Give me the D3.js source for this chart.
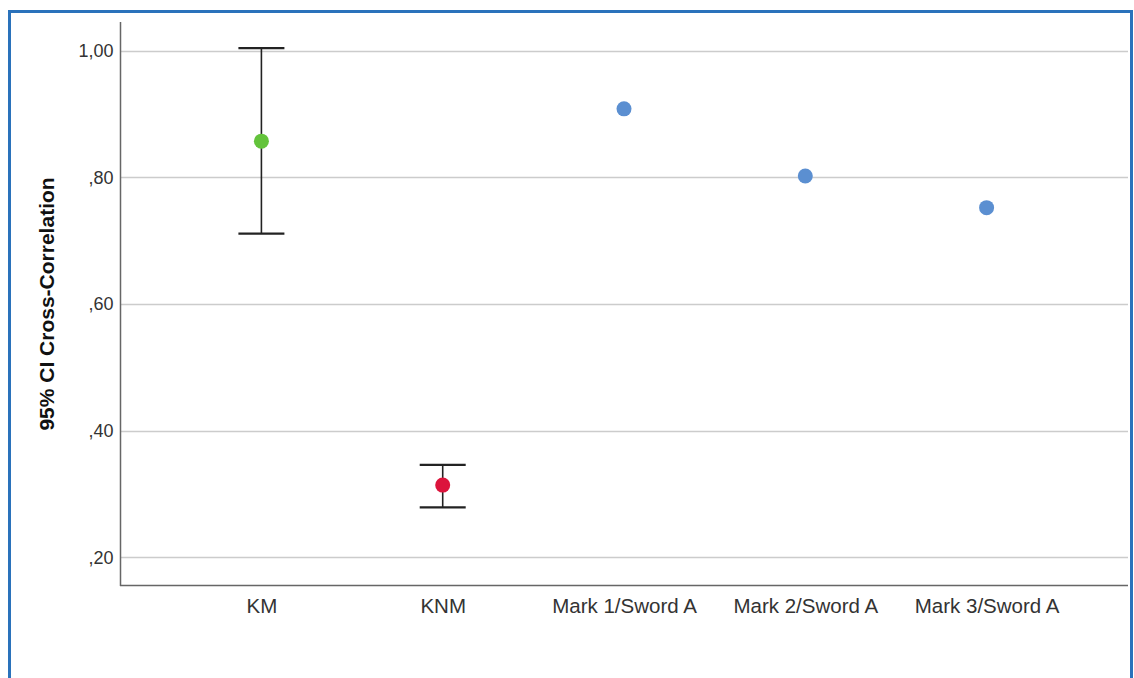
<!DOCTYPE html>
<html>
<head>
<meta charset="utf-8">
<script src="https://cdn.jsdelivr.net/npm/d3@7"></script>
<style>
  html, body { margin: 0; padding: 0; background: #fff; }
  svg { display: block; }
  text { font-family: "Liberation Sans", Arial, sans-serif; }
</style>
</head>
<body>
<svg id="chart" width="1134" height="678"></svg>
<script>
// Groups and their cross-correlation estimates
const categories = ["KM", "KNM", "Mark 1/Sword A", "Mark 2/Sword A", "Mark 3/Sword A"];
const means      = [0.857, 0.314, 0.908, 0.802, 0.752];
const ciLower    = [0.711, 0.279, null, null, null];
const ciUpper    = [1.004, 0.346, null, null, null];
const pointColors = ["#63c33b", "#dc143c", "#5b8fd1", "#5b8fd1", "#5b8fd1"];
const yTicks     = [0.2, 0.4, 0.6, 0.8, 1.0];
const yTitle     = "95% CI Cross-Correlation";

const svg = d3.select("#chart");
const W = 1134, H = 678;

// outer frame (left, top, right edges)
svg.append("path")
  .attr("d", `M9.5,${H} V11.5 H1131.5 V${H}`)
  .attr("fill", "none")
  .attr("stroke", "#2a72bb")
  .attr("stroke-width", 3);

const plot = { left: 120, right: 1128, top: 22, bottom: 585 };

const y = d3.scaleLinear()
  .domain([0.1563, 1.0451])
  .range([plot.bottom, plot.top]);

const x = d3.scalePoint()
  .domain(categories)
  .range([plot.left, plot.right])
  .padding(0.78);

const data = categories.map((c, i) => ({
  cat: c, mean: means[i], lo: ciLower[i], hi: ciUpper[i], color: pointColors[i]
}));

// horizontal grid lines
svg.append("g")
  .selectAll("line")
  .data(yTicks)
  .join("line")
  .attr("x1", plot.left)
  .attr("x2", plot.right)
  .attr("y1", d => Math.round(y(d)) + 0.5)
  .attr("y2", d => Math.round(y(d)) + 0.5)
  .attr("stroke", "#cccccc")
  .attr("stroke-width", 1.5);

// y axis
const fmt = d => d3.format(".2f")(d).replace(/^0/, "").replace(".", ",");
const yAxis = svg.append("g")
  .attr("transform", `translate(${plot.left + 0.5},0)`)
  .call(d3.axisLeft(y).tickValues(yTicks).tickFormat(fmt).tickSize(0).tickPadding(7));
yAxis.select(".domain").remove();
yAxis.selectAll("text")
  .attr("font-size", 18)
  .attr("fill", "#333")
  .attr("font-family", "Liberation Sans, Arial, sans-serif");

svg.append("line")
  .attr("x1", plot.left + 0.5).attr("x2", plot.left + 0.5)
  .attr("y1", plot.top).attr("y2", plot.bottom + 1)
  .attr("stroke", "#666").attr("stroke-width", 1.5);

// x axis
const xAxis = svg.append("g")
  .attr("transform", `translate(0,${plot.bottom + 0.5})`)
  .call(d3.axisBottom(x).tickSize(0).tickPadding(13));
xAxis.select(".domain").remove();
xAxis.selectAll("text")
  .attr("font-size", 20.5)
  .attr("fill", "#333")
  .attr("font-family", "Liberation Sans, Arial, sans-serif");

svg.append("line")
  .attr("x1", plot.left).attr("x2", plot.right)
  .attr("y1", plot.bottom + 0.5).attr("y2", plot.bottom + 0.5)
  .attr("stroke", "#666").attr("stroke-width", 1.5);

// y axis title
svg.append("text")
  .attr("transform", `translate(54,304) rotate(-90)`)
  .attr("text-anchor", "middle")
  .attr("font-size", 21)
  .attr("font-weight", "bold")
  .attr("fill", "#111")
  .text(yTitle);

// error bars
const capHalf = 23;
const eb = svg.append("g")
  .selectAll("g")
  .data(data.filter(d => d.lo != null))
  .join("g");
eb.append("line")
  .attr("x1", d => x(d.cat)).attr("x2", d => x(d.cat))
  .attr("y1", d => y(d.hi)).attr("y2", d => y(d.lo))
  .attr("stroke", "#222").attr("stroke-width", 1.6);
eb.append("line")
  .attr("x1", d => x(d.cat) - capHalf).attr("x2", d => x(d.cat) + capHalf)
  .attr("y1", d => y(d.hi)).attr("y2", d => y(d.hi))
  .attr("stroke", "#222").attr("stroke-width", 2.2);
eb.append("line")
  .attr("x1", d => x(d.cat) - capHalf).attr("x2", d => x(d.cat) + capHalf)
  .attr("y1", d => y(d.lo)).attr("y2", d => y(d.lo))
  .attr("stroke", "#222").attr("stroke-width", 2.2);

// points
svg.append("g")
  .selectAll("circle")
  .data(data)
  .join("circle")
  .attr("cx", d => x(d.cat))
  .attr("cy", d => y(d.mean))
  .attr("r", 7.5)
  .attr("fill", d => d.color);
</script>
</body>
</html>
